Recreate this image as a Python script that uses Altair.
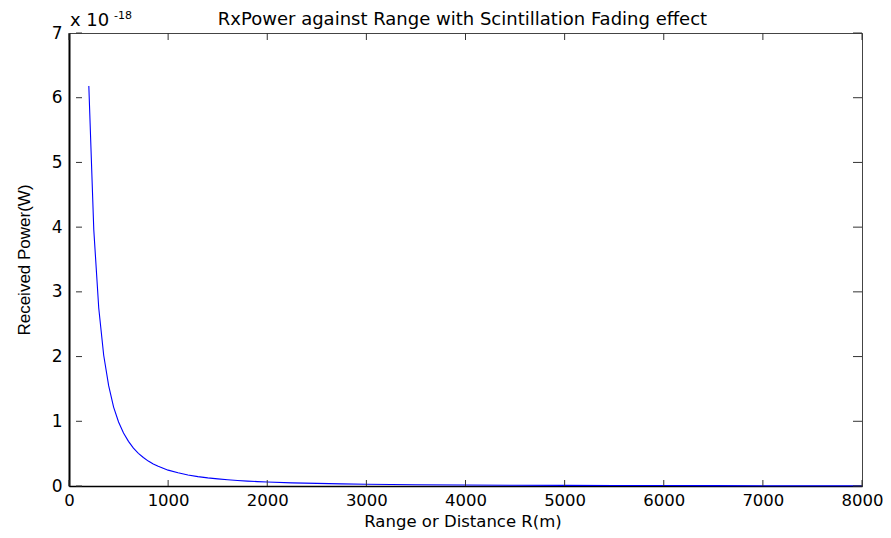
import altair as alt
import pandas as pd

# ---- data ----
range_m = [200, 250, 300, 350, 400, 450, 500, 550, 600, 650, 700, 750, 800, 850,
           900, 950, 1000, 1100, 1200, 1300, 1400, 1500, 1600, 1700, 1800, 1900,
           2000, 2250, 2500, 2750, 3000, 3500, 4000, 4500, 5000, 5500, 6000,
           6500, 7000, 7500, 8000]
power_e18 = [6.18, 3.96, 2.75, 2.02, 1.55, 1.22, 0.99, 0.82, 0.69, 0.585, 0.505,
             0.44, 0.385, 0.34, 0.305, 0.275, 0.245, 0.205, 0.17, 0.145, 0.125,
             0.11, 0.097, 0.086, 0.076, 0.068, 0.062, 0.049, 0.040, 0.033, 0.027,
             0.020, 0.0155, 0.0122, 0.0099, 0.0082, 0.0069, 0.0059, 0.0050,
             0.0044, 0.0039]
x_ticks = [0, 1000, 2000, 3000, 4000, 5000, 6000, 7000, 8000]
y_ticks = [0, 1, 2, 3, 4, 5, 6, 7]

title_text = "RxPower against Range with Scintillation Fading effect"
x_title = "Range or Distance R(m)"
y_title = "Received Power(W)"
mult_text = "x 10"
exp_text = "-18"

W, H = 793, 453
FONT = "DejaVu Sans"

df = pd.DataFrame({"range": range_m, "power": power_e18})
xt = pd.DataFrame({"range": x_ticks})
yt = pd.DataFrame({"power": y_ticks})

xscale = alt.Scale(domain=[0, 8000], nice=False, zero=False)
yscale = alt.Scale(domain=[0, 7], nice=False, zero=False)

x_axis = alt.Axis(values=x_ticks, format="d", grid=False, ticks=False, tickSize=0,
                  domainColor="#000000", domainWidth=1.5,
                  labelFont=FONT, labelFontSize=16.5, labelColor="#000000",
                  labelBaseline="alphabetic", labelPadding=19,
                  labelFlush=False, labelOverlap=False,
                  title=x_title, titleFont=FONT, titleFontSize=16.5,
                  titleFontWeight="normal", titleColor="#000000",
                  titleX=W / 2 - 3, titleY=40, titleAlign="center",
                  titleBaseline="alphabetic")
y_axis = alt.Axis(values=y_ticks, format="d", grid=False, ticks=False, tickSize=0,
                  domainColor="#000000", domainWidth=2,
                  labelFont=FONT, labelFontSize=17, labelColor="#000000",
                  labelPadding=7, labelFlush=False, labelOverlap=False,
                  title=y_title, titleFont="Liberation Sans", titleFontSize=17,
                  titleFontWeight="normal", titleColor="#000000",
                  titleAngle=270, titleX=-40, titleY=H / 2,
                  titleAlign="center", titleBaseline="alphabetic")

line = alt.Chart(df).mark_line(color="#0000ff", strokeWidth=1.1).encode(
    x=alt.X("range:Q", scale=xscale, axis=x_axis, title=x_title),
    y=alt.Y("power:Q", scale=yscale, axis=y_axis, title=y_title),
)

tick_color = "#333333"
bottom_ticks = alt.Chart(xt).mark_rule(color=tick_color, strokeWidth=1).encode(
    x=alt.X("range:Q", scale=xscale, axis=x_axis, title=x_title),
    y=alt.value(H), y2=alt.value(H - 6))
top_ticks = alt.Chart(xt).mark_rule(color=tick_color, strokeWidth=1).encode(
    x=alt.X("range:Q", scale=xscale, axis=x_axis, title=x_title),
    y=alt.value(0), y2=alt.value(7))
left_ticks = alt.Chart(yt).mark_rule(color=tick_color, strokeWidth=1).encode(
    y=alt.Y("power:Q", scale=yscale, axis=y_axis, title=y_title),
    x=alt.value(7), x2=alt.value(13))
right_ticks = alt.Chart(yt).mark_rule(color=tick_color, strokeWidth=1).encode(
    y=alt.Y("power:Q", scale=yscale, axis=y_axis, title=y_title),
    x=alt.value(W - 9), x2=alt.value(W))

title = alt.Chart(pd.DataFrame({"t": [title_text]})).mark_text(
    font=FONT, fontSize=18, color="#000000", align="center", baseline="alphabetic"
).encode(text="t:N", x=alt.value(W / 2 - 3), y=alt.value(-8))

mult = alt.Chart(pd.DataFrame({"t": [mult_text]})).mark_text(
    font=FONT, fontSize=18, color="#000000", align="left", baseline="alphabetic"
).encode(text="t:N", x=alt.value(1), y=alt.value(-7))

expo = alt.Chart(pd.DataFrame({"t": [exp_text]})).mark_text(
    font=FONT, fontSize=11, color="#000000", align="left", baseline="alphabetic"
).encode(text="t:N", x=alt.value(45), y=alt.value(-14))

chart = alt.layer(line, bottom_ticks, top_ticks, left_ticks, right_ticks,
                  title, mult, expo).properties(
    width=W, height=H,
    autosize=alt.AutoSizeParams(type="none"),
    padding={"left": 61, "top": 25, "right": 21, "bottom": 44},
    background="#ffffff",
).configure_view(stroke="#444444", strokeWidth=1)

chart.save("out.html", embed_options={"renderer": "svg", "actions": False})
